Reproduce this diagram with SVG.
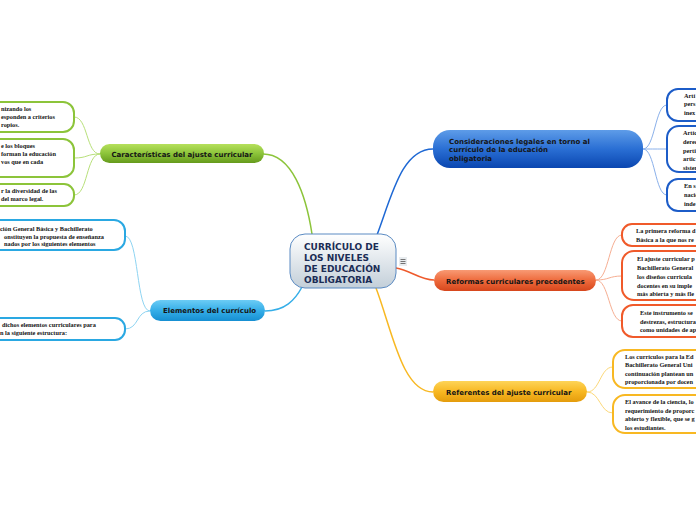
<svg xmlns="http://www.w3.org/2000/svg" width="696" height="520" viewBox="0 0 696 520">
<defs>
<linearGradient id="gCenter" x1="0" y1="0" x2="0" y2="1"><stop offset="0" stop-color="#ffffff"/><stop offset="1" stop-color="#c3cfd9"/></linearGradient>
<linearGradient id="gGreen" x1="0" y1="0" x2="0" y2="1"><stop offset="0" stop-color="#b6e05c"/><stop offset="0.5" stop-color="#8cc43a"/><stop offset="1" stop-color="#659a1c"/></linearGradient>
<linearGradient id="gLblue" x1="0" y1="0" x2="0" y2="1"><stop offset="0" stop-color="#6cccf5"/><stop offset="0.5" stop-color="#35aee8"/><stop offset="1" stop-color="#168fd2"/></linearGradient>
<linearGradient id="gDblue" x1="0" y1="0" x2="0" y2="1"><stop offset="0" stop-color="#5e9ce8"/><stop offset="0.5" stop-color="#2a6fd4"/><stop offset="1" stop-color="#0a46b0"/></linearGradient>
<linearGradient id="gOrange" x1="0" y1="0" x2="0" y2="1"><stop offset="0" stop-color="#f89a74"/><stop offset="0.5" stop-color="#ee6a3c"/><stop offset="1" stop-color="#d6461c"/></linearGradient>
<linearGradient id="gYellow" x1="0" y1="0" x2="0" y2="1"><stop offset="0" stop-color="#fdd458"/><stop offset="0.5" stop-color="#f8b822"/><stop offset="1" stop-color="#e49c0c"/></linearGradient>
</defs>
<style>
.main{font-family:"DejaVu Sans",Verdana,sans-serif;font-weight:bold;font-size:7px;fill:#151515}
.center{font-family:"DejaVu Sans",Verdana,sans-serif;font-weight:bold;font-size:9px;fill:#1b2c55}
.leaf{font-family:"Liberation Serif","Times New Roman",serif;font-weight:bold;font-size:6.3px;fill:#141414}
.leafbox{fill:#ffffff;stroke-width:2}
.conn{fill:none;stroke-width:1.5}
.sub{fill:none;stroke-width:1}
</style>

<g id="connectors">
<path class="conn" stroke="#8cc43a" d="M312,234 C306,195 292,154 263,154"/>
<path class="conn" stroke="#35aee8" d="M302,287 C295,300 285,311 265,311"/>
<path class="conn" stroke="#1e68d4" d="M377,235 C392,195 402,149 433,149"/>
<path class="conn" stroke="#ee5a2c" d="M396,268 C410,270 420,280 434,280"/>
<path class="conn" stroke="#f8b822" d="M376,288 C392,330 402,392 433,392"/>
<path class="sub" stroke="#b8e07a" d="M100,154 C86,154 88,117 74,117"/>
<path class="sub" stroke="#b8e07a" d="M100,154 C86,154 88,158 74,158"/>
<path class="sub" stroke="#b8e07a" d="M100,154 C86,154 88,195 74,195"/>
<path class="sub" stroke="#8ed4f2" d="M150,311 C136,311 139,236 125,236"/>
<path class="sub" stroke="#8ed4f2" d="M150,311 C136,311 139,329 125,329"/>
<path class="sub" stroke="#8ab0ea" d="M643,149 C655,149 655,105 667,105"/>
<path class="sub" stroke="#8ab0ea" d="M643,149 C655,149 655,149 667,149"/>
<path class="sub" stroke="#8ab0ea" d="M643,149 C655,149 655,195 667,195"/>
<path class="sub" stroke="#f6ae92" d="M596,280 C609,280 609,235 622,235"/>
<path class="sub" stroke="#f6ae92" d="M596,280 C609,280 609,276 622,276"/>
<path class="sub" stroke="#f6ae92" d="M596,280 C609,280 609,321 622,321"/>
<path class="sub" stroke="#fcd878" d="M587,392 C600,392 600,367 613,367"/>
<path class="sub" stroke="#fcd878" d="M587,392 C600,392 600,413 613,413"/>
</g>

<g id="center">
<rect x="290" y="234" width="106" height="54" rx="15" fill="url(#gCenter)" stroke="#5a8ac2" stroke-width="1"/>
<text class="center" x="304" y="249.5">CURRÍCULO DE</text>
<text class="center" x="304" y="260.5">LOS NIVELES</text>
<text class="center" x="304" y="271.5">DE EDUCACIÓN</text>
<text class="center" x="304" y="282.5">OBLIGATORIA</text>
</g>
<g id="note-icon">
<rect x="399" y="257" width="8" height="9" fill="#e8ecef"/>
<path d="M400.5,259.5h5M400.5,261.5h5M400.5,263.5h5" stroke="#555" stroke-width="0.8"/>
</g>

<g id="n-caracteristicas">
<rect x="100" y="144" width="164" height="19" rx="9.5" fill="url(#gGreen)"/>
<text class="main" x="182" y="156.5" text-anchor="middle">Características del ajuste curricular</text>
</g>
<g id="n-car-1">
<rect class="leafbox" x="-20" y="102" width="94" height="30" rx="11" stroke="#8cc43a"/>
<text class="leaf" x="1" y="111">nizando los</text>
<text class="leaf" x="1" y="119">esponden a criterios</text>
<text class="leaf" x="1" y="127">ropios.</text>
</g>
<g id="n-car-2">
<rect class="leafbox" x="-20" y="139" width="94" height="38" rx="11" stroke="#8cc43a"/>
<text class="leaf" x="1" y="148">e los bloques</text>
<text class="leaf" x="1" y="156">forman la educación</text>
<text class="leaf" x="1" y="164">vos que en cada</text>
</g>
<g id="n-car-3">
<rect class="leafbox" x="-20" y="184" width="94" height="22" rx="10" stroke="#8cc43a"/>
<text class="leaf" x="1" y="193">r la diversidad de las</text>
<text class="leaf" x="1" y="201">del marco legal.</text>
</g>

<g id="n-elementos">
<rect x="150" y="300" width="115" height="21" rx="10.5" fill="url(#gLblue)"/>
<text class="main" x="163" y="313">Elementos del currículo</text>
</g>
<g id="n-ele-1">
<rect class="leafbox" x="-20" y="220" width="145" height="30" rx="11" stroke="#2aa8e2"/>
<text class="leaf" x="0" y="231">ción General Básica y Bachillerato</text>
<text class="leaf" x="4" y="238.5">onstituyen la propuesta de enseñanza</text>
<text class="leaf" x="4" y="246">nados por los siguientes elementos</text>
</g>
<g id="n-ele-2">
<rect class="leafbox" x="-20" y="318" width="145" height="22" rx="10" stroke="#2aa8e2"/>
<text class="leaf" x="2" y="327">dichos elementos curriculares para</text>
<text class="leaf" x="0" y="335">n la siguiente estructura:</text>
</g>

<g id="n-consideraciones">
<rect x="433" y="130" width="210" height="38" rx="17" fill="url(#gDblue)"/>
<text class="main" x="449" y="144" fill="#0f1830">Consideraciones legales en torno al</text>
<text class="main" x="449" y="152">currículo de la educación</text>
<text class="main" x="449" y="161">obligatoria</text>
</g>
<g id="n-con-1">
<rect class="leafbox" x="667" y="89" width="60" height="32" rx="11" stroke="#1c5cc8"/>
<text class="leaf" x="684" y="98">Artí</text>
<text class="leaf" x="684" y="106">pers</text>
<text class="leaf" x="684" y="115">inex</text>
</g>
<g id="n-con-2">
<rect class="leafbox" x="667" y="126" width="60" height="46" rx="12" stroke="#1c5cc8"/>
<text class="leaf" x="683" y="135">Artíc</text>
<text class="leaf" x="683" y="144">derec</text>
<text class="leaf" x="683" y="152.5">perti</text>
<text class="leaf" x="683" y="161">artic</text>
<text class="leaf" x="683" y="169.5">sistem</text>
</g>
<g id="n-con-3">
<rect class="leafbox" x="667" y="179" width="60" height="32" rx="11" stroke="#1c5cc8"/>
<text class="leaf" x="684" y="188">En s</text>
<text class="leaf" x="684" y="197">nacio</text>
<text class="leaf" x="684" y="206">inde</text>
</g>

<g id="n-reformas">
<rect x="434" y="270" width="162" height="21" rx="10.5" fill="url(#gOrange)"/>
<text class="main" x="446" y="283.5">Reformas curriculares precedentes</text>
</g>
<g id="n-ref-1">
<rect class="leafbox" x="622" y="224" width="100" height="22" rx="10" stroke="#f05a2a"/>
<text class="leaf" x="636" y="233">La primera reforma d</text>
<text class="leaf" x="636" y="242">Básica a la que nos re</text>
</g>
<g id="n-ref-2">
<rect class="leafbox" x="622" y="251" width="100" height="49" rx="12" stroke="#f05a2a"/>
<text class="leaf" x="637" y="261">El ajuste curricular p</text>
<text class="leaf" x="637" y="270">Bachillerato General</text>
<text class="leaf" x="637" y="279">los diseños curricula</text>
<text class="leaf" x="637" y="287.5">docentes en su imple</text>
<text class="leaf" x="637" y="296">más abierta y más fle</text>
</g>
<g id="n-ref-3">
<rect class="leafbox" x="622" y="305" width="100" height="32" rx="11" stroke="#f05a2a"/>
<text class="leaf" x="640" y="315">Este instrumento se</text>
<text class="leaf" x="640" y="323.5">destrezas, estructura</text>
<text class="leaf" x="640" y="332">como unidades de ap</text>
</g>

<g id="n-referentes">
<rect x="433" y="381" width="154" height="21" rx="10.5" fill="url(#gYellow)"/>
<text class="main" x="446" y="394.5">Referentes del ajuste curricular</text>
</g>
<g id="n-rfe-1">
<rect class="leafbox" x="613" y="350" width="110" height="38" rx="12" stroke="#f8b822"/>
<text class="leaf" x="625" y="359">Los currículos para la Ed</text>
<text class="leaf" x="625" y="367">Bachillerato General Uni</text>
<text class="leaf" x="625" y="375.5">continuación plantean un</text>
<text class="leaf" x="625" y="383.5">proporcionada por docen</text>
</g>
<g id="n-rfe-2">
<rect class="leafbox" x="613" y="395" width="110" height="38" rx="12" stroke="#f8b822"/>
<text class="leaf" x="625" y="404">El avance de la ciencia, lo</text>
<text class="leaf" x="625" y="412.5">requerimiento de proporc</text>
<text class="leaf" x="625" y="421">abierto y flexible, que se g</text>
<text class="leaf" x="625" y="429.5">los estudiantes.</text>
</g>
</svg>
